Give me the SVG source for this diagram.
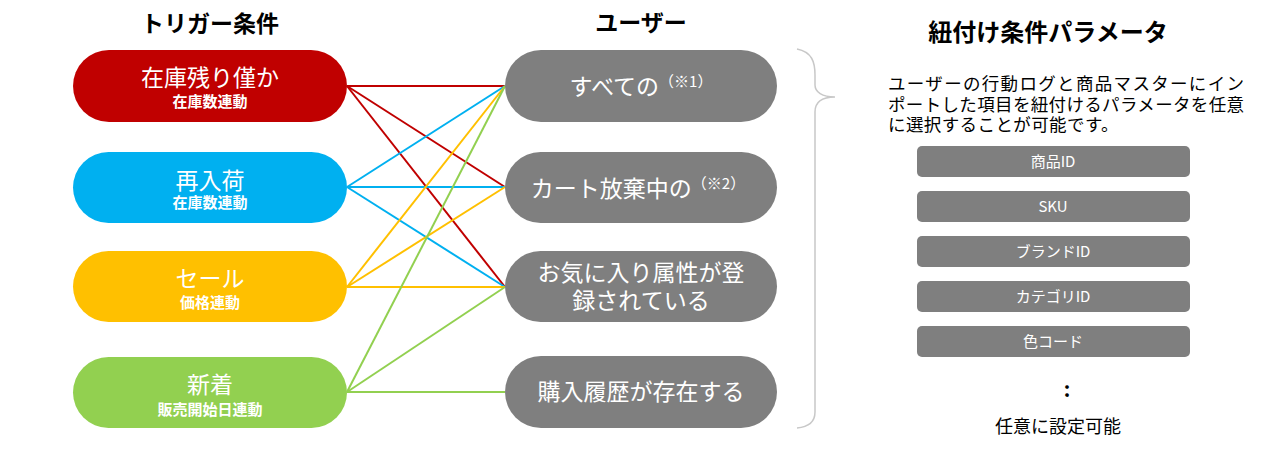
<svg xmlns="http://www.w3.org/2000/svg" width="1264" height="461" viewBox="0 0 1264 461">
<style>
text{font-family:"Noto Sans CJK JP","Noto Sans",sans-serif;}
.h{font-size:23px;font-weight:bold;fill:#000;text-anchor:middle;}
.t{fill:#fff;text-anchor:middle;}
.tm{font-size:23px;}
.ts{font-size:15px;font-weight:600;}
.g{fill:#7F7F7F;}
.c line{stroke-width:2;}
.r{stroke:#C00000;}
.b{stroke:#00B0F0;}
.y{stroke:#FFC000;}
.gr{stroke:#92D050;}
.p{font-size:15px;}
.d{font-size:17.5px;fill:#000;}
</style>
<rect width="1264" height="461" fill="#fff"/>
<text class="h" x="210" y="32">トリガー条件</text>
<text class="h" x="641" y="31">ユーザー</text>
<text class="h" x="1048" y="41" style="font-size:24px">紐付け条件パラメータ</text>

<g id="connectors" class="c">
<line class="r" x1="347" y1="86" x2="505" y2="86"/>
<line class="r" x1="347" y1="86" x2="505" y2="187"/>
<line class="r" x1="347" y1="86" x2="505" y2="287"/>
<line class="b" x1="347" y1="187" x2="505" y2="86"/>
<line class="b" x1="347" y1="187" x2="505" y2="187"/>
<line class="b" x1="347" y1="187" x2="505" y2="287"/>
<line class="y" x1="347" y1="287" x2="505" y2="86"/>
<line class="y" x1="347" y1="287" x2="505" y2="187"/>
<line class="y" x1="347" y1="287" x2="505" y2="287"/>
<line class="gr" x1="347" y1="392" x2="505" y2="86"/>
<line class="gr" x1="347" y1="392" x2="505" y2="287"/>
<line class="gr" x1="347" y1="392" x2="505" y2="392"/>
</g>

<g id="trigger-zaiko">
<rect x="73" y="50" width="274" height="72" rx="36" fill="#C00000"/>
<text class="t tm" x="210" y="86">在庫残り僅か</text>
<text class="t ts" x="210" y="107">在庫数連動</text>
</g>
<g id="trigger-sainyuka">
<rect x="73" y="152" width="274" height="71" rx="35.5" fill="#00B0F0"/>
<text class="t tm" x="210" y="189">再入荷</text>
<text class="t ts" x="210" y="208">在庫数連動</text>
</g>
<g id="trigger-sale">
<rect x="73" y="251" width="274" height="71" rx="35.5" fill="#FFC000"/>
<text class="t tm" x="210" y="287">セール</text>
<text class="t ts" x="210" y="308">価格連動</text>
</g>
<g id="trigger-new">
<rect x="73" y="357" width="274" height="71" rx="35.5" fill="#92D050"/>
<text class="t tm" x="210" y="393">新着</text>
<text class="t ts" x="210" y="415">販売開始日連動</text>
</g>

<g id="user-all">
<rect class="g" x="505" y="50" width="272" height="72" rx="36"/>
<text class="t tm" x="641" y="95"><tspan>すべての</tspan><tspan font-size="15" dy="-8">（※1）</tspan></text>
</g>
<g id="user-cart">
<rect class="g" x="505" y="152" width="272" height="71" rx="35.5"/>
<text class="t tm" x="638" y="197"><tspan>カート放棄中の</tspan><tspan font-size="15" dy="-8">（※2）</tspan></text>
</g>
<g id="user-fav">
<rect class="g" x="505" y="251" width="272" height="71" rx="35.5"/>
<text class="t tm" x="641" y="281">お気に入り属性が登</text>
<text class="t tm" x="641" y="309">録されている</text>
</g>
<g id="user-purchase">
<rect class="g" x="505" y="356" width="272" height="72" rx="36"/>
<text class="t tm" x="641" y="400">購入履歴が存在する</text>
</g>

<path id="brace" d="M797,49 C812,52 815,62 815,75 L815,85 C815,92 822,97 835,97 C822,97 815,102 815,112 L815,412 C815,422 808,427 797,428" fill="none" stroke="#C8C8C8" stroke-width="1.5"/>

<g id="description">
<text class="d" x="888" y="90" textLength="356" lengthAdjust="spacing">ユーザーの行動ログと商品マスターにイン</text>
<text class="d" x="888" y="111" textLength="356" lengthAdjust="spacing">ポートした項目を紐付けるパラメータを任意</text>
<text class="d" x="888" y="131" style="letter-spacing:0.4px">に選択することが可能です。</text>
</g>

<g id="param-item">
<rect class="g" x="917" y="146" width="273" height="31" rx="5"/>
<text class="t p" x="1053" y="167">商品ID</text>
</g>
<g id="param-sku">
<rect class="g" x="917" y="191" width="273" height="31" rx="5"/>
<text class="t p" x="1053" y="212">SKU</text>
</g>
<g id="param-brand">
<rect class="g" x="917" y="236" width="273" height="31" rx="5"/>
<text class="t p" x="1053" y="257">ブランドID</text>
</g>
<g id="param-category">
<rect class="g" x="917" y="281" width="273" height="31" rx="5"/>
<text class="t p" x="1053" y="302">カテゴリID</text>
</g>
<g id="param-color">
<rect class="g" x="917" y="326" width="273" height="31" rx="5"/>
<text class="t p" x="1053" y="347">色コード</text>
</g>
<text x="1067" y="397" style="font-size:20px;font-weight:bold;text-anchor:middle;fill:#000">:</text>
<text x="1058" y="433" style="font-size:18px;text-anchor:middle;fill:#000">任意に設定可能</text>
</svg>
